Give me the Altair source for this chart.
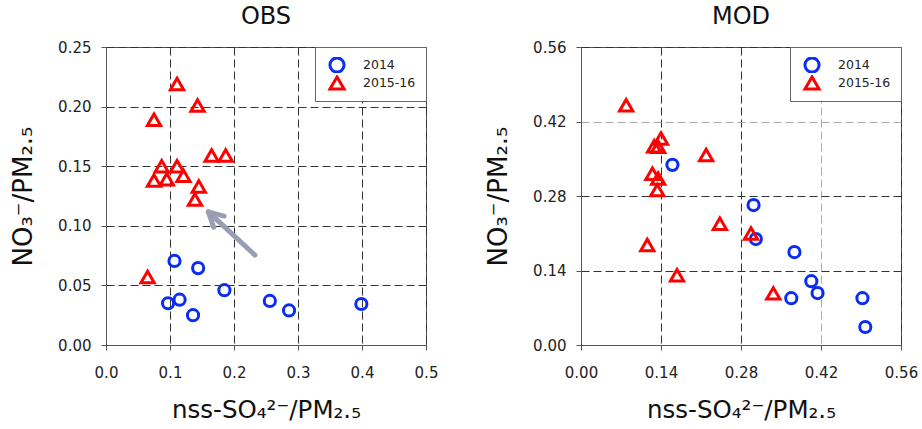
import altair as alt
import pandas as pd

series = ["2014", "2015-16"]
colors = ["#0a2df5", "#ff0000"]
shapes = ["circle", "triangle-up"]
marker_sizes = [125, 175]

# OBS panel
obs_2014_x = [0.107, 0.144, 0.185, 0.097, 0.115, 0.136, 0.256, 0.286, 0.399]
obs_2014_y = [0.0705, 0.0645, 0.046, 0.035, 0.038, 0.025, 0.037, 0.029, 0.0344]
obs_1516_x = [0.111, 0.143, 0.075, 0.165, 0.187, 0.087, 0.111, 0.075, 0.095, 0.121, 0.145, 0.139, 0.065]
obs_1516_y = [0.219, 0.201, 0.189, 0.159, 0.159, 0.150, 0.150, 0.138, 0.139, 0.142, 0.133, 0.122, 0.057]

# MOD panel
mod_2014_x = [0.160, 0.302, 0.306, 0.3735, 0.403, 0.414, 0.368, 0.4925, 0.4975]
mod_2014_y = [0.3385, 0.263, 0.199, 0.1746, 0.120, 0.0976, 0.088, 0.088, 0.0338]
mod_1516_x = [0.079, 0.140, 0.128, 0.135, 0.219, 0.125, 0.135, 0.1335, 0.243, 0.2975, 0.116, 0.168, 0.3365]
mod_1516_y = [0.4505, 0.388, 0.3735, 0.3725, 0.357, 0.322, 0.313, 0.291, 0.228, 0.2097, 0.188, 0.131, 0.097]

# annotation arrow (OBS panel), tail -> tip in data units
arrow_x = [0.2328, 0.1599]
arrow_y = [0.0754, 0.1117]

obs_xticks = [0.0, 0.1, 0.2, 0.3, 0.4, 0.5]
obs_yticks = [0.0, 0.05, 0.10, 0.15, 0.20, 0.25]
mod_ticks = [0.0, 0.14, 0.28, 0.42, 0.56]

x_title = "nss-SO\u2084\u00b2\u207b/PM\u2082.\u2085"
y_title = "NO\u2083\u207b/PM\u2082.\u2085"

FONT = "DejaVu Sans"
ARROW = "#9a9db3"


def frame(xs, ys, name):
    return pd.DataFrame({"x": xs, "y": ys, "series": name})


obs_df = pd.concat([frame(obs_2014_x, obs_2014_y, series[0]),
                    frame(obs_1516_x, obs_1516_y, series[1])], ignore_index=True)
mod_df = pd.concat([frame(mod_2014_x, mod_2014_y, series[0]),
                    frame(mod_1516_x, mod_1516_y, series[1])], ignore_index=True)
arrow_df = pd.DataFrame({"x": arrow_x, "y": arrow_y, "order": [0, 1]})
arrow_tip = arrow_df.iloc[[1]]


def panel(df, xdom, ydom, xticks, yticks, xfmt, yfmt, light=None):
    if light is None:
        gcol = "#333333"
    else:
        gcol = {"condition": {"test": f"abs(datum.value - {light}) < 0.0001", "value": "#a8a8a8"},
                "value": "#333333"}
    xaxis = alt.Axis(values=xticks, format=xfmt, title=x_title, grid=True,
                     gridDash=[8, 4], gridColor=gcol, gridWidth=1, labelFlush=False,
                     labelPadding=15, titlePadding=18, titleFontSize=24.5)
    yaxis = alt.Axis(values=yticks, format=yfmt, title=y_title, grid=True,
                     gridDash=[8, 4], gridColor=gcol, gridWidth=1, labelFlush=False,
                     labelPadding=10, titlePadding=21, titleFontSize=26)
    enc = dict(
        x=alt.X("x:Q", scale=alt.Scale(domain=xdom, nice=False, zero=False), axis=xaxis),
        y=alt.Y("y:Q", scale=alt.Scale(domain=ydom, nice=False, zero=False), axis=yaxis),
        color=alt.Color("series:N", scale=alt.Scale(domain=series, range=colors),
                        legend=alt.Legend(title=None, orient="top-right", offset=0,
                                          padding=10, strokeColor="#666666",
                                          fillColor="white", labelFontSize=12.5,
                                          labelFont=FONT, labelColor="#222222",
                                          symbolStrokeWidth=3, symbolSize=200,
                                          clipHeight=16, rowPadding=2, labelOffset=17,
                                          symbolOffset=3)),
        shape=alt.Shape("series:N", scale=alt.Scale(domain=series, range=shapes)),
    )
    layers = []
    for name, sz in zip(series, marker_sizes):
        layers.append(
            alt.Chart(df).transform_filter(alt.datum.series == name)
            .mark_point(filled=False, strokeWidth=3, opacity=1, size=sz)
            .encode(**enc)
        )
    return layers


title_style = dict(fontSize=24, font=FONT, fontWeight="normal", color="#111111",
                   anchor="middle", frame="group", offset=11)

left = alt.layer(
    *panel(obs_df, [0, 0.5], [0, 0.25], obs_xticks, obs_yticks, ".1f", ".2f"),
    alt.Chart(arrow_df).mark_line(color=ARROW, strokeWidth=5, strokeCap="round").encode(
        x="x:Q", y="y:Q", order="order:Q"),
    alt.Chart(arrow_tip).mark_point(
        shape="M-1.9,3.6L0,0L1.9,3.6", angle=313, size=64, filled=False,
        color=ARROW, strokeWidth=5, strokeCap="round", strokeJoin="round", opacity=1
    ).encode(x="x:Q", y="y:Q"),
).properties(width=320, height=298, title=alt.Title("OBS", **title_style))

right = alt.layer(
    *panel(mod_df, [0, 0.56], [0, 0.56], mod_ticks, mod_ticks, ".2f", ".2f", light=0.42)
).properties(width=320, height=298, title=alt.Title("MOD", **title_style))

chart = alt.hconcat(left, right, spacing=46).resolve_scale(
    color="independent", shape="independent"
).resolve_legend(
    color="independent", shape="independent"
).properties(
    padding={"left": 10, "top": 4, "right": 0, "bottom": 0}
).configure_axis(
    labelFont=FONT, labelFontSize=15, labelColor="#222222",
    titleFont=FONT, titleFontWeight="normal", titleColor="#111111",
    domainColor="#555555", tickColor="#555555", tickSize=5,
).configure_view(stroke="#555555", strokeWidth=1)

chart.save("out.html", embed_options={"renderer": "svg", "actions": False})
